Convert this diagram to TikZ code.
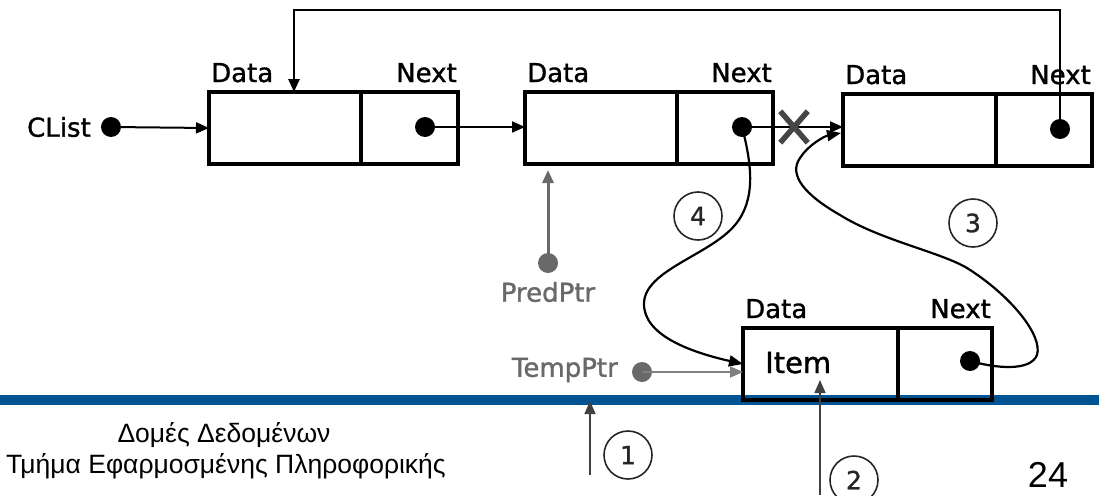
\documentclass[tikz,border=0pt]{standalone}
\usepackage{fontspec}
\setmainfont{Liberation Sans}
\newfontfamily\labelfont[FakeBold=1.2]{DejaVu Sans}
\usetikzlibrary{arrows.meta,calc,shapes.misc}
\definecolor{barblue}{RGB}{0,84,147}
\definecolor{ptrgray}{RGB}{105,105,105}
\definecolor{xgray}{RGB}{70,70,70}
\begin{document}
\begin{tikzpicture}[x=1pt,y=-1pt,
  cell/.style={draw, line width=3.4pt, minimum height=72pt, anchor=north west,
               inner sep=0pt, outer sep=0pt},
  lbl/.style={font=\labelfont\fontsize{26}{26}\selectfont, inner sep=0pt},
  ptr/.style={line width=2pt, -{Triangle[length=13pt,width=11pt]}},
  curve/.style={line width=2.2pt, -{Triangle[length=14pt,width=11pt]}},
  blob/.style={circle, fill, inner sep=0pt, minimum size=20pt},
  num/.style={circle, draw=black!85, line width=1.6pt, minimum size=48pt, inner sep=0pt,
              font=\labelfont\fontsize{25}{25}\selectfont, text=black!85}
]
\useasboundingbox (0,0) rectangle (1099,495);

% footer bar
\fill[barblue] (0,395) rectangle (1099,405);

% list nodes: data cell + next cell
\node[cell, minimum width=152pt] (n1d) at (209,92) {};
\node[cell, minimum width=97pt]  (n1n) at (n1d.north east) {};
\node[cell, minimum width=152pt] (n2d) at (525,92) {};
\node[cell, minimum width=96pt]  (n2n) at (n2d.north east) {};
\node[cell, minimum width=153pt] (n3d) at (843,94) {};
\node[cell, minimum width=96pt]  (n3n) at (n3d.north east) {};
\node[cell, minimum width=155pt] (i1d) at (743,328) {};
\node[cell, minimum width=94pt]  (i1n) at (i1d.north east) {};
\draw[white, line width=2.4pt] ($(i1d.north east)+(0,2)$) -- ($(i1d.south east)+(0,-2)$);
\draw[black, line width=1.5pt] (i1d.north east) -- (i1d.south east);

% field labels
\foreach \n in {n1,n2,n3,i1}{
  \node[lbl, anchor=base west] (\n dl) at ($(\n d.north west)+(2,-10)$) {Data};
  \node[lbl, anchor=base east] (\n nl) at ($(\n n.north east)+(-1,-10)$) {Next};
}
\node[font=\labelfont\fontsize{29}{29}\selectfont, anchor=base west, inner sep=0pt] (item)
  at ($(i1d.north west)+(22,45)$) {Item};

% pointer dots
\node[blob] (cdot)  at (111,127) {};
\node[blob] (n1dot) at (425,127) {};
\node[blob] (n2dot) at (742,127) {};
\node[blob] (n3dot) at (1060,129) {};
\node[blob] (i1dot) at (970,361) {};
\node[blob, ptrgray] (pdot) at (548,263) {};
\node[blob, ptrgray] (tdot) at (642,372) {};

% pointer names
\node[font=\labelfont\fontsize{26}{26}\selectfont, anchor=east, inner sep=0pt] (clist) at (91,127) {CList};
\node[font=\labelfont\fontsize{26}{26}\selectfont, text=ptrgray] (pred) at (548,292) {PredPtr};
\node[font=\labelfont\fontsize{26}{26}\selectfont, text=ptrgray, anchor=east, inner sep=0pt] (temp) at (618,370) {TempPtr};

% links
\draw[ptr] (cdot.center) -- (n1d.west);
\draw[ptr] (n1dot.center) -- (n1dot -| n2d.west);
\draw[ptr] (n2dot.center) -- (n2dot -| n3d.west);
\draw[ptr, ptrgray, line width=3pt] (pdot.center) -- ($(pdot |- n2d.south)+(0,6)$);
\draw[ptr, ptrgray!85] (tdot.center) -- (tdot -| i1d.west);

% circular back link from the last node
\coordinate (loop) at (294,10);
\draw[line width=2.8pt, -{Triangle[length=13pt,width=11pt]}] (n3dot.center) |- (loop) -- (loop |- n1d.north);

% broken link mark
\node[cross out, draw=xgray, line width=5.5pt, minimum width=22pt, minimum height=26pt] (xmark) at (794,127) {};

% rewired links
\draw[curve] (n2dot.center) .. controls (752,165) and (756,200) .. (735,225)
  .. controls (710,255) and (645,270) .. (644,303)
  .. controls (643,335) and (690,352) .. (i1d.west);
\draw[curve] (i1dot.center) .. controls (995,368) and (1030,372) .. (1037,355)
  .. controls (1043,335) and (1010,295) .. (967,268)
  .. controls (940,252) and (880,240) .. (840,215)
  .. controls (805,195) and (788,175) .. (800,158)
  .. controls (808,145) and (825,136) .. ($(n3d.west)+(-2,3)$);

% step numbers
\node[num] (s4) at (698,216) {4};
\node[num] (s3) at (973,223) {3};
\node[num] (s1) at (628,455) {1};
\node[num] (s2) at (854,480) {2};
\coordinate (a1) at (590,475);
\coordinate (a2) at (820,495);
\draw[ptr, black!75, line width=1.6pt] (a1) -- (a1 |- 0,401);
\draw[ptr, black!75, line width=1.6pt] (a2) -- ($(item.base -| a2)+(0,7)$);

% footer
\node[font=\fontsize{26.5}{26.5}\selectfont, anchor=base] (foot1) at (224,442) {Δομές Δεδομένων};
\node[font=\fontsize{26.5}{26.5}\selectfont, anchor=base] (foot2) at (226,473) {Τμήμα Εφαρμοσμένης Πληροφορικής};
\node[font=\fontsize{36}{36}\selectfont, anchor=base] (page) at (1048,487) {24};
\end{tikzpicture}
\end{document}
